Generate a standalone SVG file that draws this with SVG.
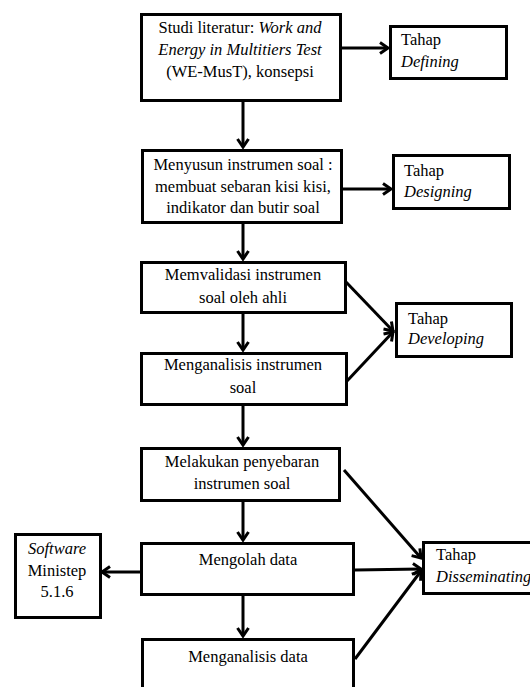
<svg xmlns="http://www.w3.org/2000/svg" width="530" height="687" viewBox="0 0 530 687">
<defs>
<style>
.box{fill:#fff;stroke:#000;stroke-width:3}
text{font-family:'Liberation Serif','Tinos','Times New Roman','DejaVu Serif',serif;font-size:16.5px;fill:#000}
.c{text-anchor:middle}
.i{font-style:italic}
.ln{fill:none;stroke:#000;stroke-width:3;marker-end:url(#ah)}
</style>
<marker id="ah" markerUnits="userSpaceOnUse" markerWidth="14" markerHeight="14" refX="10" refY="7" orient="auto">
<path d="M2,1.5 L10,7 L2,12.5" fill="none" stroke="#000" stroke-width="3"/>
</marker>
</defs>
<rect width="530" height="687" fill="#fff"/>
<g id="connectors">
<line class="ln" x1="342" y1="48" x2="388" y2="48"/>
<line class="ln" x1="243" y1="101" x2="243" y2="147"/>
<line class="ln" x1="343" y1="189" x2="391" y2="189"/>
<line class="ln" x1="243" y1="223" x2="243" y2="259"/>
<line class="ln" x1="346" y1="282" x2="393" y2="331"/>
<line class="ln" x1="347" y1="381" x2="393" y2="332"/>
<line class="ln" x1="243" y1="313" x2="243" y2="350"/>
<line class="ln" x1="243" y1="405" x2="243" y2="445"/>
<line class="ln" x1="243" y1="501" x2="243" y2="540"/>
<line class="ln" x1="140" y1="572" x2="102" y2="572"/>
<line class="ln" x1="243" y1="595" x2="243" y2="636"/>
<line class="ln" x1="344" y1="470" x2="421" y2="558"/>
<line class="ln" x1="355" y1="570" x2="421" y2="569"/>
<line class="ln" x1="355" y1="659" x2="421" y2="571"/>
</g>
<g id="n1">
<rect class="box" x="141.5" y="14.5" width="199" height="86"/>
<text class="c" x="240" y="33">Studi literatur: <tspan class="i">Work and</tspan></text>
<text class="c i" x="240" y="55">Energy in Multitiers Test</text>
<text class="c" x="240" y="77">(WE-MusT), konsepsi</text>
</g>
<g id="n_defining">
<rect class="box" x="390.5" y="26.5" width="116" height="52"/>
<text x="401" y="45">Tahap</text>
<text class="i" x="401" y="67">Defining</text>
</g>
<g id="n2">
<rect class="box" x="142.5" y="150.5" width="199" height="72"/>
<text class="c" x="243" y="170">Menyusun instrumen soal :</text>
<text class="c" x="243" y="192">membuat sebaran kisi kisi,</text>
<text class="c" x="243" y="213">indikator dan butir soal</text>
</g>
<g id="n_designing">
<rect class="box" x="393.5" y="155.5" width="116" height="53"/>
<text x="404" y="176">Tahap</text>
<text class="i" x="404" y="197">Designing</text>
</g>
<g id="n3">
<rect class="box" x="141.5" y="262.5" width="204" height="50"/>
<text class="c" x="243" y="280">Memvalidasi instrumen</text>
<text class="c" x="243" y="303">soal oleh ahli</text>
</g>
<g id="n4">
<rect class="box" x="141.5" y="353.5" width="205" height="51"/>
<text class="c" x="243" y="370">Menganalisis instrumen</text>
<text class="c" x="243" y="393">soal</text>
</g>
<g id="n_developing">
<rect class="box" x="396.5" y="303.5" width="115" height="53"/>
<text x="408" y="324">Tahap</text>
<text class="i" x="408" y="344">Developing</text>
</g>
<g id="n5">
<rect class="box" x="141.5" y="448.5" width="198" height="52"/>
<text class="c" x="242" y="467">Melakukan penyebaran</text>
<text class="c" x="242" y="489">instrumen soal</text>
</g>
<g id="n6">
<rect class="box" x="141.5" y="543.5" width="212" height="51"/>
<text class="c" x="248" y="565">Mengolah data</text>
</g>
<g id="n_software">
<rect class="box" x="15.5" y="534.5" width="85" height="83"/>
<text class="c i" x="57" y="554">Software</text>
<text class="c" x="57" y="576">Ministep</text>
<text class="c" x="57" y="597">5.1.6</text>
</g>
<g id="n7">
<rect class="box" x="142.5" y="639.5" width="211" height="70"/>
<text class="c" x="248" y="662">Menganalisis data</text>
</g>
<g id="n_disseminating">
<rect class="box" x="423.5" y="542.5" width="120" height="51"/>
<text x="436" y="560">Tahap</text>
<text class="i" x="436" y="582">Disseminating</text>
</g>
</svg>
